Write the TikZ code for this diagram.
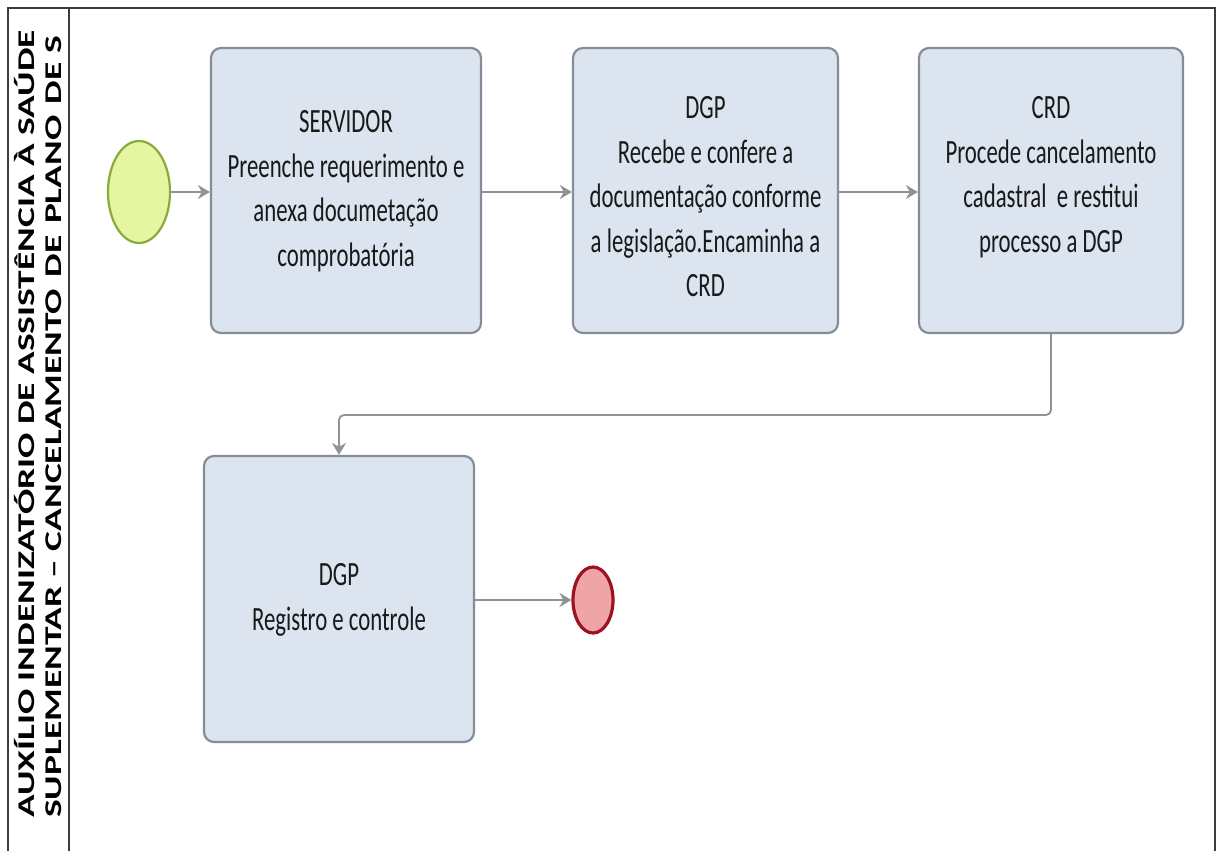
\documentclass[tikz,border=0pt]{standalone}
\usepackage{fontspec}
\usetikzlibrary{arrows.meta,shapes.geometric}
\setmainfont{Carlito}
\newfontfamily\boxfont[FakeStretch=0.67]{Carlito}
\newfontfamily\lanefont[FakeStretch=1.56]{Carlito}
\definecolor{boxfill}{HTML}{DCE4EF}
\definecolor{boxline}{HTML}{858E98}
\definecolor{flow}{HTML}{8E9398}
\definecolor{startfill}{HTML}{E5F5A0}
\definecolor{startline}{HTML}{88AC3C}
\definecolor{endfill}{HTML}{EFA5A8}
\definecolor{endline}{HTML}{9C1222}
\definecolor{frame}{HTML}{3C3C3C}
\tikzset{
  task/.style={draw=boxline, fill=boxfill, line width=2.2pt, rounded corners=10pt,
    inner sep=0pt},
  tasktext/.style={align=center, inner sep=0pt, text=black!90,
    font=\boxfont\fontsize{34}{44.5}\selectfont},
  flowline/.style={draw=flow, line width=1.8pt,
    -{Stealth[length=12pt,width=14pt,inset=4pt]}},
  lanetext/.style={rotate=90, anchor=west, inner sep=0pt,
    font=\lanefont\bfseries\fontsize{24}{24}\selectfont},
}
\newcommand{\widegap}{\hspace{3pt}}
\begin{document}
\begin{tikzpicture}[x=1pt,y=-1pt]
\useasboundingbox (0,0) rectangle (1218,851);
\fill[white] (0,0) rectangle (1218,851);

% pool frame and lane header
\draw[frame, line width=2pt] (8,851) -- (8,8) -- (1215,8) -- (1215,851);
\draw[frame, line width=2pt] (69,8) -- (69,851);
\node[lanetext] (lane1) at (25,818) {AUXÍLIO INDENIZATÓRIO DE ASSISTÊNCIA À SAÚDE};
\node[lanetext] (lane2) at (54,818) {SUPLEMENTAR – CANCELAMENTO \widegap DE \widegap PLANO \widegap DE S};

% events
\node[ellipse, draw=startline, fill=startfill, line width=2.2pt,
  minimum width=62pt, minimum height=102pt, inner sep=0pt] (start) at (139,192) {};
\node[ellipse, draw=endline, fill=endfill, line width=3.2pt,
  minimum width=40pt, minimum height=66pt, inner sep=0pt] (end) at (593,600) {};

% tasks
\node[task, minimum width=270pt, minimum height=285pt] (b1) at (346,190.5) {};
\node[task, minimum width=265pt, minimum height=285pt] (b2) at (705.5,190.5) {};
\node[task, minimum width=264pt, minimum height=285pt] (b3) at (1051,190.5) {};
\node[task, minimum width=270pt, minimum height=286pt] (b4) at (339,599) {};

\node[tasktext] (t1) at (346,191) {SERVIDOR\\Preenche requerimento e\\anexa documetação\\comprobatória};
\node[tasktext] (t2) at (705.5,197) {DGP\\Recebe e confere a\\documentação conforme\\a legislação.Encaminha a\\CRD};
\node[tasktext] (t3) at (1051,177) {CRD\\Procede cancelamento\\cadastral~ e restitui\\processo a DGP};
\node[tasktext] (t4) at (339,600) {DGP\\Registro e controle};

% sequence flows
\draw[flowline] (start.east) -- (start.east -| b1.west);
\draw[flowline] (b1.east |- 0,192) -- (b2.west |- 0,192);
\draw[flowline] (b2.east |- 0,192) -- (b3.west |- 0,192);
\draw[flowline, rounded corners=5pt] (b3.south) -- (b3.south |- 0,415) -- (b4.north |- 0,415) -- (b4.north);
\draw[flowline] (end.west -| b4.east) -- (end.west);
\end{tikzpicture}
\end{document}
